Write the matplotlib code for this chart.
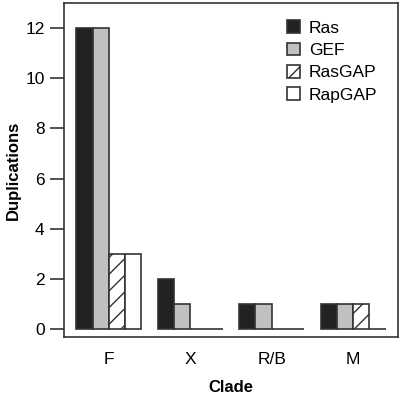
import numpy as np
import matplotlib
matplotlib.use("Agg")
import matplotlib.pyplot as plt

plt.rcParams['font.family'] = ['Liberation Sans', 'DejaVu Sans']
plt.rcParams['hatch.linewidth'] = 1.0

# data
clades = ['F', 'X', 'R/B', 'M']
series = ['Ras', 'GEF', 'RasGAP', 'RapGAP']
ras = [12, 2, 1, 1]
gef = [12, 1, 1, 1]
rasgap = [3, 0, 0, 1]
rapgap = [3, 0, 0, 0]

values = [ras, gef, rasgap, rapgap]
colors = ['#222222', '#c0c0c0', 'white', 'white']
hatches = [None, None, '//', None]
edge = '#333333'

fig = plt.figure(figsize=(4, 4), dpi=100)
ax = fig.add_axes([0.16, 0.1575, 0.835, 0.835])

# R-style barplot layout: width 1, one unit gap before each group
group_start = np.arange(len(clades)) * 5 + 1
for i, (name, vals) in enumerate(zip(series, values)):
    ax.bar(group_start + i + 0.5, vals, width=1, color=colors[i],
           edgecolor=edge, linewidth=1.2, hatch=hatches[i], label=name)

ax.set_xlim(0.24, 20.76)
ax.set_ylim(-0.32, 13.0)
ax.set_xticks(group_start + 2)
ax.set_xticklabels(clades, fontsize=12.5)
ax.tick_params(axis='x', length=0, pad=11)
ax.set_yticks([0, 2, 4, 6, 8, 10, 12])
ax.tick_params(axis='y', labelsize=12.5, length=10, width=1.2, color='#333333', pad=4)
for s in ax.spines.values():
    s.set_linewidth(1.2)
    s.set_color('#333333')

ax.set_xlabel('Clade', fontsize=12, fontweight='bold', labelpad=9)
ax.set_ylabel('Duplications', fontsize=12, fontweight='bold', labelpad=3)

ax.legend(loc='upper right', bbox_to_anchor=(0.985, 0.995), frameon=False, fontsize=12.5,
          handlelength=0.75, handleheight=0.75, handletextpad=0.5, labelspacing=0.4)

fig.savefig('out.png', dpi=100)
